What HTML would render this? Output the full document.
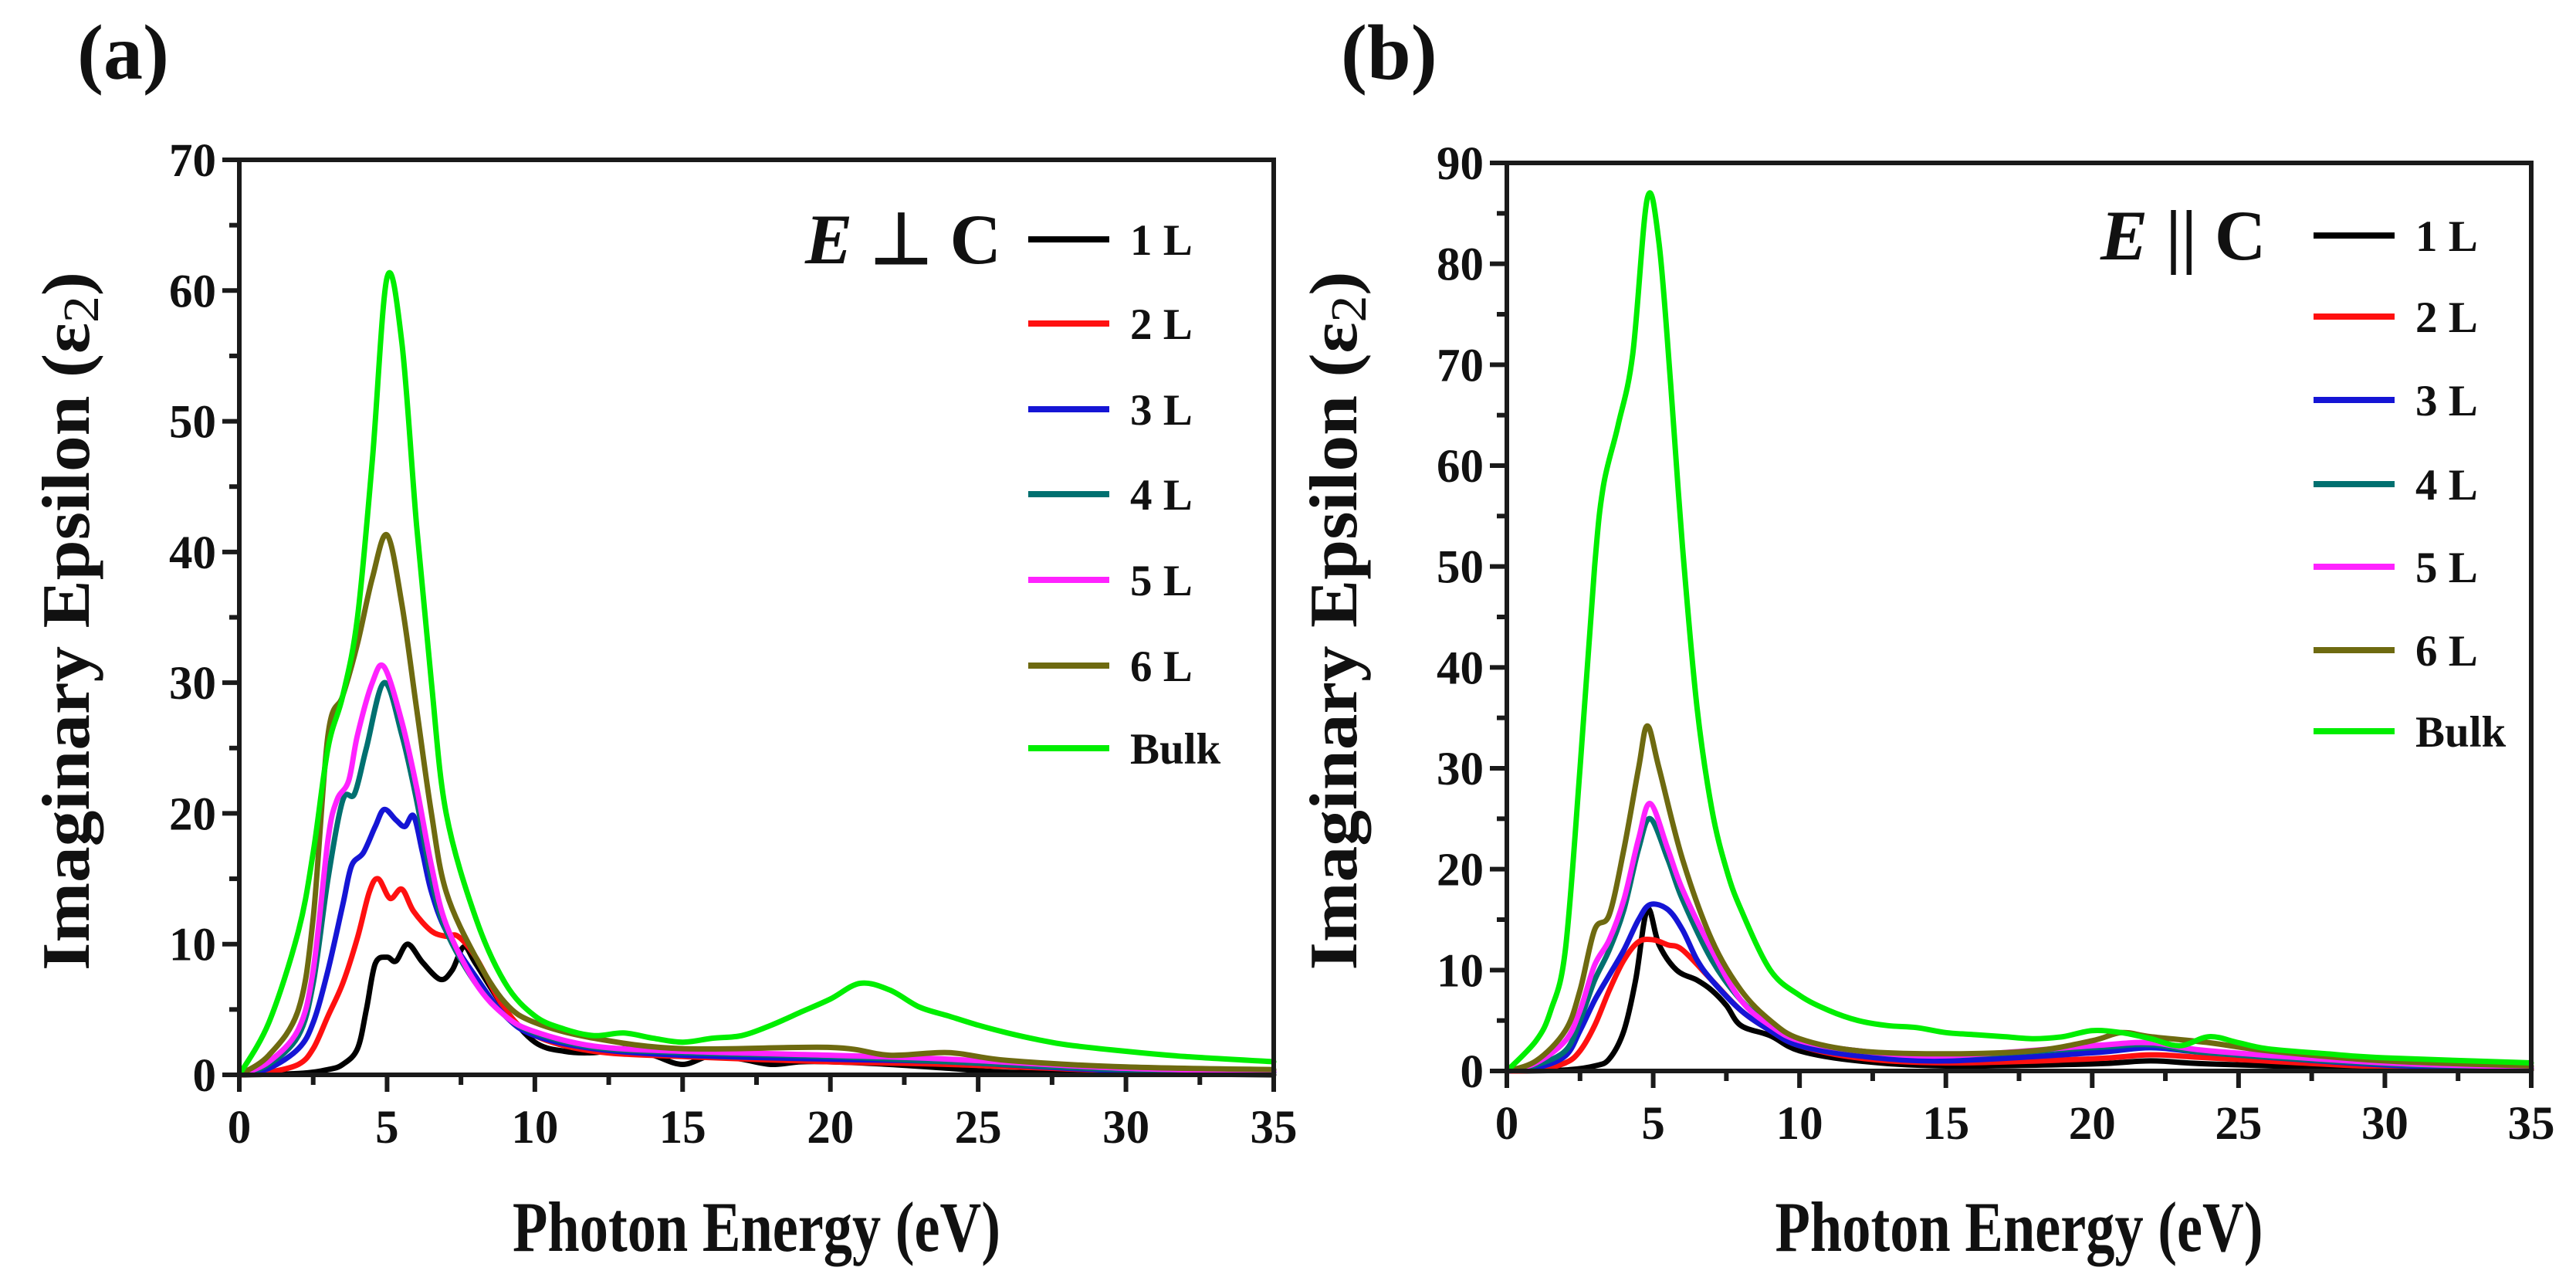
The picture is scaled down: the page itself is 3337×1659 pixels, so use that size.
<!DOCTYPE html>
<html><head><meta charset="utf-8"><style>
html,body{margin:0;padding:0;background:#fff;}
svg{display:block;}
text{font-family:"Liberation Serif",serif;font-weight:bold;fill:#111;}
</style></head>
<body>
<svg id="chart" width="3337" height="1659" viewBox="0 0 3337 1659" xmlns="http://www.w3.org/2000/svg">
<text x="100" y="102" font-size="102">(a)</text>
<text x="1737" y="102" font-size="102">(b)</text>
</svg>
<script>
const seriesNames = ["1 L","2 L","3 L","4 L","5 L","6 L","Bulk"];
const seriesColors = ["#000000","#ff1010","#1515d5","#007070","#ff22ff","#6e6a10","#00ee00"];
const xTicks = [0,5,10,15,20,25,30,35];
const yTicksA = [0,10,20,30,40,50,60,70];
const yTicksB = [0,10,20,30,40,50,60,70,80,90];

// Panel (a): E ⊥ C  — [x(eV), eps2] pairs
const a1L = [[0,0],[2,0.1],[3,0.4],[3.5,0.8],[4,2],[4.3,5],[4.6,8.5],[5,9],[5.3,8.7],[5.7,10],[6.2,8.6],[6.8,7.3],[7.2,8],[7.6,9.8],[8,8.5],[9,5],[10,2.5],[11,1.8],[12,1.7],[13,2],[14,1.5],[15,0.8],[16,1.5],[17,1.2],[18,0.8],[19,1],[20,1],[22,0.8],[24,0.5],[26,0.2],[30,0.1],[35,0]];
const a2L = [[0,0],[1,0.2],[2,0.8],[2.5,2],[3,4.5],[3.5,7],[4,10.5],[4.4,14],[4.7,15],[5.1,13.5],[5.5,14.2],[5.9,12.5],[6.5,11],[7,10.6],[7.4,10.6],[8,9],[9,5],[10,3],[12,1.8],[15,1.4],[20,1],[24,0.8],[30,0.3],[35,0.2]];
const a3L = [[0,0],[1,0.5],[2,2],[2.5,4],[3,8],[3.5,13],[3.8,16],[4.2,17],[4.6,19],[4.9,20.3],[5.3,19.5],[5.6,19],[5.9,19.8],[6.2,17],[6.5,14],[7,11],[8,7.5],[9,4.5],[10,3],[12,2],[15,1.5],[20,1.2],[24,1],[30,0.3],[35,0.2]];
const a4L = [[0,0],[1,0.8],[2,3],[2.5,7],[3,15],[3.5,21],[3.9,21.5],[4.3,25],[4.9,30],[5.5,26],[6,21],[6.5,15],[7,11],[8,7],[9,4.5],[10,3.2],[12,2.1],[15,1.7],[20,1.4],[24,1],[30,0.4],[35,0.3]];
const a5L = [[0,0],[1,1],[2,3.5],[2.5,8],[3,18],[3.3,21],[3.7,22.5],[4,26],[4.5,30],[4.9,31.2],[5.5,27],[6,22],[6.5,16],[7,11.5],[8,7],[9,4.5],[10,3.3],[12,2.2],[15,1.8],[20,1.5],[24,1.2],[30,0.5],[35,0.3]];
const a6L = [[0,0],[1,1.5],[2,5],[2.5,12],[3,26],[3.5,29],[4,33],[4.5,38],[5,41.3],[5.5,36],[6,28],[6.5,20],[7,14],[8,9],[9,5.5],[10,4],[12,2.8],[15,2],[20,2.1],[22,1.5],[24,1.7],[26,1.1],[30,0.6],[35,0.4]];
const aBulk = [[0,0],[1,4],[2,11],[2.5,17],[3,25],[3.5,29],[4,35],[4.5,47],[5,61],[5.5,56],[6,42],[6.5,30],[7,20],[8,12],[9,7],[10,4.5],[11,3.5],[12,3],[13,3.2],[14,2.8],[15,2.5],[16,2.8],[17,3],[18,3.8],[19,4.8],[20,5.8],[21,7],[22,6.5],[23,5.2],[24,4.5],[25,3.8],[26,3.2],[27,2.7],[28,2.3],[30,1.8],[32,1.4],[35,1.0]];

// Panel (b): E || C
const b1L = [[0,0],[2,0.1],[3,0.5],[3.5,1.2],[4,4],[4.4,9],[4.8,16],[5.2,12.5],[5.8,10],[6.5,9],[7,8],[7.5,6.5],[8,4.5],[9,3.5],[10,2],[12,1],[15,0.5],[20,0.7],[22,1],[24,0.7],[30,0.2],[35,0.1]];
const b2L = [[0,0],[1,0.1],[2,0.8],[2.5,2],[3,4.5],[3.5,8],[4,11],[4.5,12.8],[5,13],[5.5,12.5],[6,12],[7,9],[8,6],[9,4],[10,2.5],[12,1.3],[15,0.8],[20,1.2],[22,1.6],[24,1.3],[30,0.4],[35,0.2]];
const b3L = [[0,0],[1,0.3],[2,1.5],[2.5,4],[3,7],[3.5,9.5],[4,12],[4.5,15],[4.9,16.5],[5.5,16],[6,14],[6.5,11],[7,9],[8,6],[9,4],[10,2.5],[12,1.5],[15,1],[20,1.8],[22,2.3],[24,1.8],[30,0.6],[35,0.3]];
const b4L = [[0,0],[1,0.6],[2,2],[2.5,5],[3,9],[3.5,12],[4,16],[4.5,22],[4.9,25],[5.5,21],[6,17],[7,11],[8,7],[9,4.5],[10,3],[12,2],[15,1.5],[20,2.3],[22,2.6],[24,1.8],[30,0.7],[35,0.4]];
const b5L = [[0,0],[1,0.8],[2,3],[2.5,6],[3,10.5],[3.5,13],[4,17],[4.5,23],[4.9,26.5],[5.5,22],[6,18],[7,12],[8,7],[9,4.5],[10,3],[12,2],[15,1.5],[20,2.5],[22,2.8],[24,2],[30,0.8],[35,0.4]];
const b6L = [[0,0],[1,1],[2,4],[2.5,8],[3,14],[3.5,15.5],[4,22],[4.5,30],[4.8,34.2],[5.2,30],[6,21],[7,13],[8,8],[9,5],[10,3.2],[12,2],[15,1.7],[18,2],[20,3],[21,3.8],[22,3.4],[24,2.8],[26,2],[30,1],[35,0.5]];
const bBulk = [[0,0],[1,3],[1.5,6],[2,12],[2.5,30],[3,50],[3.3,58],[3.8,64],[4.3,71],[4.8,86.5],[5.2,82],[5.6,68],[6,52],[6.5,36],[7,26],[7.5,20],[8,16],[9,10],[10,7.5],[11,6],[12,5],[13,4.5],[14,4.3],[15,3.8],[16,3.6],[17,3.4],[18,3.2],[19,3.4],[20,4],[21,3.8],[22,3.2],[23,2.5],[24,3.4],[25,2.8],[26,2.2],[28,1.7],[30,1.3],[35,0.8]];

const NS = "http://www.w3.org/2000/svg";
const svg = document.getElementById("chart");
function mk(tag, attrs, parent){ const e=document.createElementNS(NS,tag); for(const k in attrs) e.setAttribute(k,attrs[k]); (parent||svg).appendChild(e); return e; }

function smoothPath(pts){
  let d = "M"+pts[0][0].toFixed(1)+","+pts[0][1].toFixed(1);
  for(let i=0;i<pts.length-1;i++){
    const p0=pts[Math.max(0,i-1)], p1=pts[i], p2=pts[i+1], p3=pts[Math.min(pts.length-1,i+2)];
    const c1=[p1[0]+(p2[0]-p0[0])/6, p1[1]+(p2[1]-p0[1])/6];
    const c2=[p2[0]-(p3[0]-p1[0])/6, p2[1]-(p3[1]-p1[1])/6];
    d+=" C"+c1[0].toFixed(1)+","+c1[1].toFixed(1)+" "+c2[0].toFixed(1)+","+c2[1].toFixed(1)+" "+p2[0].toFixed(1)+","+p2[1].toFixed(1);
  }
  return d;
}

function panel(id, L, R, T, B, ymax, yTicks, series, legend){
  const g = mk("g",{});
  
  
  const xs = v => L + v/35*(R-L);
  const ys = v => B - v/ymax*(B-T);
  series.forEach((s,i)=>{
    const p = mk("path",{d:smoothPath(s.map(q=>[xs(q[0]),ys(q[1])])),fill:"none",stroke:seriesColors[i],"stroke-width":7,"stroke-linejoin":"round","stroke-linecap":"round"},g);
    
    
  });
  const fr = mk("rect",{x:L,y:T,width:R-L,height:B-T,fill:"none",stroke:"#1a1a1a","stroke-width":6},g);
  
  
  for(let v=0; v<=35; v+=2.5){
    const major = v%5===0;
    mk("line",{x1:xs(v),x2:xs(v),y1:B,y2:B+(major?22:13),stroke:"#1a1a1a","stroke-width":6},g);
  }
  xTicks.forEach(v=>{
    const t = mk("text",{x:xs(v),y:B+88,"font-size":61,"text-anchor":"middle"},g);
    t.textContent = v;
    
    
  });
  for(let v=0; v<=ymax; v+=5){
    const major = v%10===0;
    mk("line",{x1:L,x2:L-(major?22:13),y1:ys(v),y2:ys(v),stroke:"#1a1a1a","stroke-width":6},g);
  }
  yTicks.forEach(v=>{
    const t = mk("text",{x:L-30,y:ys(v)+21,"font-size":61,"text-anchor":"end"},g);
    t.textContent = v;
    
    
  });
  const xt = mk("text",{x:(L+R)/2,y:1620,"font-size":92,"text-anchor":"middle",textLength:632,lengthAdjust:"spacingAndGlyphs"},g);
  xt.textContent = "Photon Energy (eV)";
  
  
  const cy = (T+B)/2 + 5;
  const yt = mk("text",{x:0,y:0,"font-size":88,"text-anchor":"middle",transform:"translate("+(L-195)+","+cy+") rotate(-90)",textLength:905,lengthAdjust:"spacingAndGlyphs"},g);
  yt.innerHTML = 'Imaginary Epsilon (\u03B5<tspan font-weight="normal" font-size="66" dy="12">2</tspan><tspan dy="-12">)</tspan>';
  
  
  const lt = mk("text",{x:legend.tx,y:legend.rows[0]+31,"font-size":92},g);
  lt.innerHTML = legend.title;
  
  
  seriesNames.forEach((n,i)=>{
    const y = legend.rows[i];
    const ln = mk("line",{x1:legend.lx,x2:legend.lx+105,y1:y,y2:y,stroke:seriesColors[i],"stroke-width":8},g);
    
    
    const t = mk("text",{x:legend.lx+132,y:y+20,"font-size":57},g);
    t.textContent = n;
    
    
  });
}

panel("panel-a", 310, 1650, 207, 1392, 70, yTicksA, [a1L,a2L,a3L,a4L,a5L,a6L,aBulk],
  {tx:1043, lx:1332, title:'<tspan font-style="italic">E</tspan> \u22A5 C', rows:[310,419,530,640,751,862,969]});
panel("panel-b", 1952, 3279, 211, 1387, 90, yTicksB, [b1L,b2L,b3L,b4L,b5L,b6L,bBulk],
  {tx:2721, lx:2997, title:'<tspan font-style="italic">E</tspan> || C', rows:[305,410,518,627,734,842,947]});
</script>
</body></html>
